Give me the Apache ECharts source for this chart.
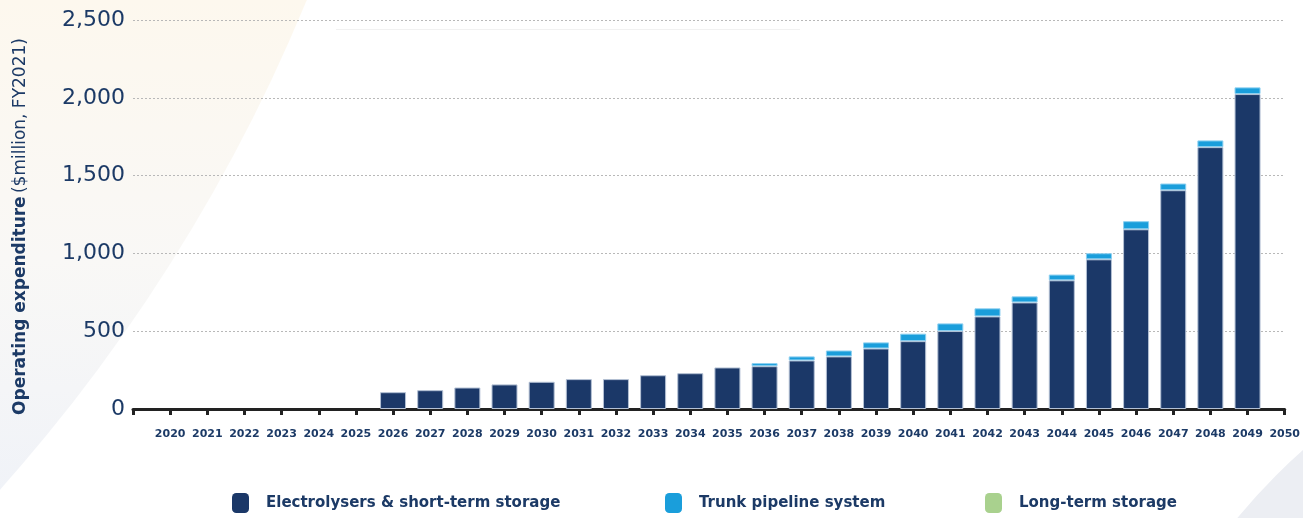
<!DOCTYPE html>
<html>
<head>
<meta charset="utf-8">
<script src="https://cdn.jsdelivr.net/npm/echarts@6/dist/echarts.min.js"></script>
<style>
html,body{margin:0;padding:0;background:#fff;}
#chart{width:1303px;height:518px;}
</style>
</head>
<body>
<div id="chart"></div>
<script>
// Axis categories (2019 and 2050 are axis end points, 2019 unlabelled)
const axisYears = ['2019','2020','2021','2022','2023','2024','2025','2026','2027','2028','2029','2030','2031','2032','2033','2034','2035','2036','2037','2038','2039','2040','2041','2042','2043','2044','2045','2046','2047','2048','2049','2050'];
// Bar years
const barYears = ['2020','2021','2022','2023','2024','2025','2026','2027','2028','2029','2030','2031','2032','2033','2034','2035','2036','2037','2038','2039','2040','2041','2042','2043','2044','2045','2046','2047','2048','2049'];
// Series values ($million, FY2021), one per bar year
const electrolysers = [0,0,0,0,0,0,108,121,138,158,175,192,192,217,230,267,275,312,338,389,436,501,595,685,827,962,1155,1406,1683,2024];
const trunkPipeline = [0,0,0,0,0,0,0,0,0,0,0,0,0,0,0,0,20,26,38,39,48,49,52,39,37,39,52,43,43,43];
const longTermStorage = [0,0,0,0,0,0,0,0,0,0,0,0,0,0,0,0,0,0,0,0,0,0,0,0,0,0,0,0,0,0];
// Y tick values
const yTicks = [0,500,1000,1500,2000,2500];
const seriesNames = ['Electrolysers & short-term storage','Trunk pipeline system','Long-term storage'];

function pad(arr){
  const map = {};
  barYears.forEach((y,i)=>{map[y]=arr[i];});
  // zero values are not drawn (no visible bar)
  return axisYears.map(y => (y in map && map[y] !== 0) ? map[y] : null);
}

const navy = '#1b3868';
const txt = '#1c3a66';
const chart = echarts.init(document.getElementById('chart'), null, {renderer:'canvas'});

const legendBase = {
  top: 493, padding: 0, itemWidth: 17, itemHeight: 20, icon: 'roundRect',
  itemStyle: {borderWidth: 0},
  textStyle: {fontFamily:'DejaVu Sans', fontWeight:'bold', fontSize:15, color: txt, padding:[0,0,0,12]}
};

chart.setOption({
  animation: false,
  backgroundColor: '#ffffff',
  graphic: [
    {type:'circle', z:-10, silent:true, shape:{cx:-1286, cy:-657, r:1723},
     style:{fill:new echarts.graphic.LinearGradient(0,0,0,518,[
        {offset:0,color:'#fdf8ee'},{offset:0.5,color:'#f9f8f6'},{offset:1,color:'#eff2f8'}],true)}},
    {type:'circle', z:-10, silent:true, shape:{cx:1700, cy:900, r:600},
     style:{fill:'#eceef3'}},
    {type:'line', z:-10, silent:true, shape:{x1:336,y1:29.5,x2:800,y2:29.5},
     style:{stroke:'#f1f1f1', lineWidth:1}}
  ],
  legend: [
    Object.assign({left:232, data:[seriesNames[0]]}, legendBase),
    Object.assign({left:665, data:[seriesNames[1]]}, legendBase),
    Object.assign({left:985, data:[seriesNames[2]]}, legendBase)
  ],
  grid: {left:133, right:13, top:20, bottom:109, containLabel:false},
  xAxis: {
    type:'category', data: axisYears, boundaryGap:false,
    axisLine:{show:true, lineStyle:{color:'#222', width:3}},
    axisTick:{show:true, length:6, lineStyle:{color:'#222', width:3}},
    axisLabel:{
      interval:0, margin:20,
      formatter:(v, i)=> i===0 ? '' : v,
      fontFamily:'DejaVu Sans', fontWeight:'bold', fontSize:11, color: txt
    },
    splitLine:{show:false}
  },
  yAxis: {
    type:'value', min:yTicks[0], max:yTicks[yTicks.length-1], interval:500,
    axisLine:{show:false}, axisTick:{show:false},
    axisLabel:{
      margin:8, fontFamily:'DejaVu Sans', fontSize:22, color: txt,
      formatter:(v)=> v.toLocaleString('en-US')
    },
    splitLine:{show:true, lineStyle:{color:'#b8b8b8', width:1, type:[2,2]}},
    name:'{b|Operating expenditure} {n|($million, FY2021)}',
    nameLocation:'middle', nameRotate:90, nameGap:104,
    nameTextStyle:{
      padding:[0,24,0,0],
      rich:{
        b:{fontFamily:'DejaVu Sans', fontWeight:'bold', fontSize:17, color: txt},
        n:{fontFamily:'DejaVu Sans', fontSize:17, color: txt}
      }
    }
  },
  series: [
    {name:seriesNames[0], type:'bar', stack:'total', barWidth:26, data:pad(electrolysers),
     itemStyle:{color:navy, borderColor:'#b3c0d4', borderWidth:1}},
    {name:seriesNames[1], type:'bar', stack:'total', barWidth:26, data:pad(trunkPipeline),
     itemStyle:{color:'#1a9edb', borderColor:'#8ccff0', borderWidth:1}},
    {name:seriesNames[2], type:'bar', stack:'total', barWidth:26, data:pad(longTermStorage),
     itemStyle:{color:'#a9d18e'}}
  ]
});
</script>
</body>
</html>
